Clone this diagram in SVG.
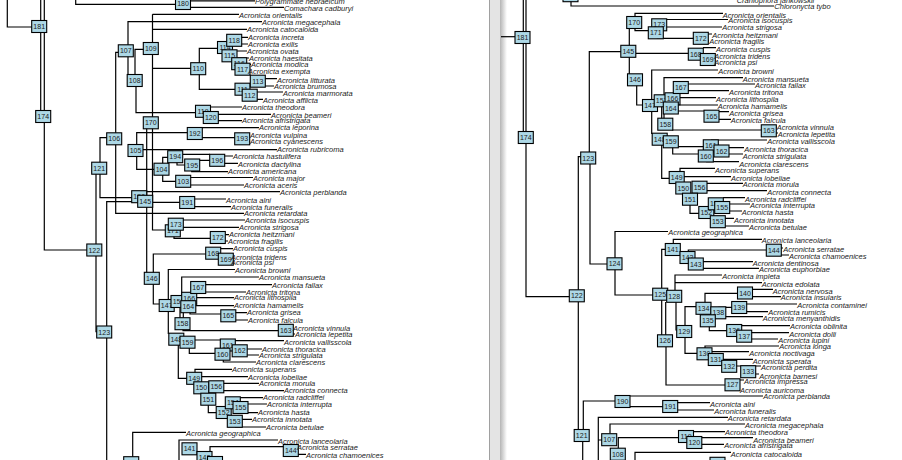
<svg xmlns="http://www.w3.org/2000/svg" width="902" height="460" viewBox="0 0 902 460">
<defs>
<linearGradient id="edge" x1="0" y1="0" x2="1" y2="0"><stop offset="0" stop-color="#b4b4b4"/><stop offset="1" stop-color="#ffffff"/></linearGradient>
<style>
.e{fill:none;stroke:#000;stroke-width:1.2}
.n rect{fill:#add8e6;stroke:#000;stroke-width:1.1}
.n text{font-family:"Liberation Sans",Arial,sans-serif;font-size:7px;text-anchor:middle;fill:#1a1a1a}
.l{font-family:"Liberation Sans",Arial,sans-serif;font-style:italic;font-size:7.5px;fill:#1a1a1a}
</style>
</defs>
<rect width="902" height="460" fill="#fff"/>
<rect x="489" y="0" width="11" height="460" fill="#e4e4e4"/>
<line x1="489.5" y1="0" x2="489.5" y2="460" stroke="#a0a0a0"/>
<rect x="500" y="0" width="7" height="460" fill="url(#edge)"/>

<g id="connectors">
<!-- left panel -->
<path class="e" d="M7.3 0V27H32"/>
<path class="e" d="M40.7 0V111"/>
<path class="e" d="M44.3 0V250H87"/>
<path class="e" d="M75.7 0V4.3H176"/>
<path class="e" d="M183 0.8H255M183 7.3H284"/>
<path class="e" d="M152.5 14.3V230H166M152.5 14.3H239M152.5 29.3H247M152.5 68.3H191"/>
<path class="e" d="M262 21.7H128V75"/>
<path class="e" d="M119 52.3H115.7V213.3H244"/>
<path class="e" d="M135 75V49.3H144"/>
<path class="e" d="M136 86V112.7H196"/>
<path class="e" d="M146.7 128V273"/>
<path class="e" d="M136.7 147V132.7H188"/>
<path class="e" d="M218 48.3H199.3V89.3H235"/>
<path class="e" d="M234 37.3H248M234 44H248M225 51H247M229 58H249M239 64.3H251M243 71.3H248"/>
<path class="e" d="M258 78.7H277M258 86H274M250 92H283M250 99.3H263"/>
<path class="e" d="M203 107H242M211 114.3H271M211 120.7H242"/>
<path class="e" d="M259 127.7H195V137.7H235M242 135H250M242 141.7H250"/>
<path class="e" d="M136 149.7H277"/>
<path class="e" d="M136.7 155V169.3H155"/>
<path class="e" d="M168 157.3H162.7V181.3H176"/>
<path class="e" d="M183 154.3H210M177 161.7V165H185M199 160.3H210M191.7 170V171.7H228"/>
<path class="e" d="M218 156H233M218 163.3H238M183 177.5H253M183 185H244"/>
<path class="e" d="M107 137.7H100V197.7H132"/>
<path class="e" d="M96 174V331.7H97"/>
<path class="e" d="M106.7 460V201.7H138"/>
<path class="e" d="M146.7 191.7H280M152 202.3H180M187 199H226M187 206.7H231"/>
<path class="e" d="M176 220H245M176 227.3H239M174 236V238.3H211M218 234.7H229M218 241H228"/>
<path class="e" d="M206 254H153.3V304H160"/>
<path class="e" d="M213 248.7H233M226 256H231M226 262.7H231"/>
<path class="e" d="M235 269.5H168.3V334"/>
<path class="e" d="M181.7 301V277H259M180 301V318M183.3 301V318"/>
<path class="e" d="M198 284.7H272M198 292H246M189 297.7H234M188 305.7H234M190 307V314H221"/>
<path class="e" d="M228 312.7H247M228 320H248M183 324V330.7H279M286 327H293M286 334H295"/>
<path class="e" d="M178.3 345V378.3H187"/>
<path class="e" d="M195 340H221M189.3 348V353.3H215M228 340.7H284M240 349H262M240 355H259M223.3 360V362H256"/>
<path class="e" d="M195 373V369.3H232M194 376.7H248M216 383.3H259M216 390.7H284"/>
<path class="e" d="M208.3 405V412.7H217M233 397.7H263M240 404H267M240 412.7H258M235 419.3H252M235 427H266"/>
<path class="e" d="M132.7 457V432.3H186"/>
<path class="e" d="M179 460V440H278M210 452V446.7H284M291 447.3H297M291 454.3H306"/>
<!-- right panel -->
<path class="e" d="M501 36.7H515"/>
<path class="e" d="M523.3 0V132"/>
<path class="e" d="M526 0V296.7H570"/>
<path class="e" d="M571 0V6H774"/>
<path class="e" d="M635 22.5V13.3H723M635 28V30.7H649"/>
<path class="e" d="M666 19.5H728M666 27H722M656.7 38.3H694M708 34H712M708 41H709"/>
<path class="e" d="M629.3 46V28M621 51.7H589.3V152M636 53.3H689"/>
<path class="e" d="M703 47.7H716M715 55.5H714M629.3 56V74M636.7 85V105H643"/>
<path class="e" d="M718 70H651.7V134"/>
<path class="e" d="M743 77.7H664V119M661.7 100V119"/>
<path class="e" d="M681 84H755M681 90.7H729M673 97.7H716M671 105H718M678 111H704"/>
<path class="e" d="M712 111.7H729M712 119.3H731M672 130H762M769 127H777M769 133H778"/>
<path class="e" d="M678 146.7H704M711 140H767M722 147.7H744M722 154H743M672.7 147V154H698M706.7 160V161.7H739"/>
<path class="e" d="M661.7 145V178.3H670M680 172V168.3H715M684 176.7H731M706 183.3H743M706 190.7H767"/>
<path class="e" d="M690 205V213.3H700M723 197.7H745M729 204H750M729 211H742M725 218.3H734M725 226H749"/>
<path class="e" d="M578.3 290V156.7H581M590 163V264H608"/>
<path class="e" d="M668 231.5H615V295H653"/>
<path class="e" d="M661.7 288V249.3H666M673.3 244V239.3H762M688.3 253V250H766M774 248H783M781 255H789"/>
<path class="e" d="M703 261.7H753M703 268.3H759"/>
<path class="e" d="M722 275H675V290M675 282.7H762"/>
<path class="e" d="M705 303V293.3H738M752 289.3H773M752 296.7H781"/>
<path class="e" d="M718.3 307.3H732M746 304H797M746 311.7H768M725 316.7H763"/>
<path class="e" d="M709.3 326V330.7H727M741 325.7H790M751 332.7H789M751 339H778"/>
<path class="e" d="M661.7 300V335M665.7 302V335M676 302V330H677"/>
<path class="e" d="M696 306.7H685V353.3H698"/>
<path class="e" d="M705 348.3V346H779M711 351.7H749M723 359.3H753M736 366H761M755 374H759"/>
<path class="e" d="M666 346.7V385H725M740 380H744"/>
<path class="e" d="M578.3 301.7V429M583.3 429V401H615M582.7 441V460"/>
<path class="e" d="M630 396H763M630 406.7H663M677 402.7H710M677 410H714"/>
<path class="e" d="M598.3 460V417.3H728M598.3 440H602M610 433.3V424H745"/>
<path class="e" d="M618.3 448.3V437.7H679M693 431.7H725M701 437.7H753M701 444.3H724"/>
<path class="e" d="M635 460V452.3H731"/>
</g>

<g id="nodes-left">
<g id="L180" class="n" transform="translate(183,3.5)"><rect x="-7.5" y="-6" width="15" height="12"/><text y="2.5">180</text></g>
<g id="L181" class="n" transform="translate(39.2,26.5)"><rect x="-7.5" y="-6" width="15" height="12"/><text y="2.5">181</text></g>
<g id="L174" class="n" transform="translate(43.2,116.5)"><rect x="-7.5" y="-6" width="15" height="12"/><text y="2.5">174</text></g>
<g id="L106" class="n" transform="translate(114.2,138.8)"><rect x="-7.5" y="-6" width="15" height="12"/><text y="2.5">106</text></g>
<g id="L107" class="n" transform="translate(125.8,50.8)"><rect x="-7.5" y="-6" width="15" height="12"/><text y="2.5">107</text></g>
<g id="L108" class="n" transform="translate(134.7,80.5)"><rect x="-7.5" y="-6" width="15" height="12"/><text y="2.5">108</text></g>
<g id="L109" class="n" transform="translate(150.8,48.5)"><rect x="-7.5" y="-6" width="15" height="12"/><text y="2.5">109</text></g>
<g id="L110" class="n" transform="translate(198.2,68.7)"><rect x="-7.5" y="-6" width="15" height="12"/><text y="2.5">110</text></g>
<g id="L114" class="n" transform="translate(225,47.5)"><rect x="-7.5" y="-6" width="15" height="12"/><text y="2.5">114</text></g>
<g id="L118" class="n" transform="translate(234.2,40.3)"><rect x="-7.5" y="-6" width="15" height="12"/><text y="2.5">118</text></g>
<g id="L115" class="n" transform="translate(229.5,55.8)"><rect x="-7.5" y="-6" width="15" height="12"/><text y="2.5">115</text></g>
<g id="L116" class="n" transform="translate(239.2,63.7)"><rect x="-7.5" y="-6" width="15" height="12"/><text y="2.5">116</text></g>
<g id="L117" class="n" transform="translate(242.5,69.2)"><rect x="-7.5" y="-6" width="15" height="12"/><text y="2.5">117</text></g>
<g id="L111" class="n" transform="translate(242.5,89.2)"><rect x="-7.5" y="-6" width="15" height="12"/><text y="2.5">111</text></g>
<g id="L112" class="n" transform="translate(249.7,95.2)"><rect x="-7.5" y="-6" width="15" height="12"/><text y="2.5">112</text></g>
<g id="L113" class="n" transform="translate(257.8,81.2)"><rect x="-7.5" y="-6" width="15" height="12"/><text y="2.5">113</text></g>
<g id="L119" class="n" transform="translate(203,111.3)"><rect x="-7.5" y="-6" width="15" height="12"/><text y="2.5">119</text></g>
<g id="L120" class="n" transform="translate(210.8,117.5)"><rect x="-7.5" y="-6" width="15" height="12"/><text y="2.5">120</text></g>
<g id="L170" class="n" transform="translate(150.8,122.8)"><rect x="-7.5" y="-6" width="15" height="12"/><text y="2.5">170</text></g>
<g id="L192" class="n" transform="translate(194.8,133.5)"><rect x="-7.5" y="-6" width="15" height="12"/><text y="2.5">192</text></g>
<g id="L193" class="n" transform="translate(242.2,138.8)"><rect x="-7.5" y="-6" width="15" height="12"/><text y="2.5">193</text></g>
<g id="L105" class="n" transform="translate(135.5,150.5)"><rect x="-7.5" y="-6" width="15" height="12"/><text y="2.5">105</text></g>
<g id="L104" class="n" transform="translate(161.5,169.2)"><rect x="-7.5" y="-6" width="15" height="12"/><text y="2.5">104</text></g>
<g id="L194" class="n" transform="translate(175.2,156.7)"><rect x="-7.5" y="-6" width="15" height="12"/><text y="2.5">194</text></g>
<g id="L195" class="n" transform="translate(192.2,165)"><rect x="-7.5" y="-6" width="15" height="12"/><text y="2.5">195</text></g>
<g id="L196" class="n" transform="translate(217.2,160.3)"><rect x="-7.5" y="-6" width="15" height="12"/><text y="2.5">196</text></g>
<g id="L103" class="n" transform="translate(183.2,181.3)"><rect x="-7.5" y="-6" width="15" height="12"/><text y="2.5">103</text></g>
<g id="L121" class="n" transform="translate(99.2,168.2)"><rect x="-7.5" y="-6" width="15" height="12"/><text y="2.5">121</text></g>
<g id="L122" class="n" transform="translate(94.3,250)"><rect x="-7.5" y="-6" width="15" height="12"/><text y="2.5">122</text></g>
<g id="L123" class="n" transform="translate(104.2,332)"><rect x="-7.5" y="-6" width="15" height="12"/><text y="2.5">123</text></g>
<g id="L190" class="n" transform="translate(139.2,196.7)"><rect x="-7.5" y="-6" width="15" height="12"/><text y="2.5">190</text></g>
<g id="L145" class="n" transform="translate(145.2,201.3)"><rect x="-7.5" y="-6" width="15" height="12"/><text y="2.5">145</text></g>
<g id="L191" class="n" transform="translate(187.2,202.5)"><rect x="-7.5" y="-6" width="15" height="12"/><text y="2.5">191</text></g>
<g id="L171" class="n" transform="translate(172.8,230.8)"><rect x="-7.5" y="-6" width="15" height="12"/><text y="2.5">171</text></g>
<g id="L173" class="n" transform="translate(175.8,224.2)"><rect x="-7.5" y="-6" width="15" height="12"/><text y="2.5">173</text></g>
<g id="L172" class="n" transform="translate(217.8,237.5)"><rect x="-7.5" y="-6" width="15" height="12"/><text y="2.5">172</text></g>
<g id="L146" class="n" transform="translate(151.8,278.3)"><rect x="-7.5" y="-6" width="15" height="12"/><text y="2.5">146</text></g>
<g id="L168" class="n" transform="translate(213.2,253.2)"><rect x="-7.5" y="-6" width="15" height="12"/><text y="2.5">168</text></g>
<g id="L169" class="n" transform="translate(225.8,259.2)"><rect x="-7.5" y="-6" width="15" height="12"/><text y="2.5">169</text></g>
<g id="L147" class="n" transform="translate(166.7,305.5)"><rect x="-7.5" y="-6" width="15" height="12"/><text y="2.5">147</text></g>
<g id="L157" class="n" transform="translate(178.5,301.5)"><rect x="-7.5" y="-6" width="15" height="12"/><text y="2.5">157</text></g>
<g id="L166" class="n" transform="translate(189.2,298.3)"><rect x="-7.5" y="-6" width="15" height="12"/><text y="2.5">166</text></g>
<g id="L167" class="n" transform="translate(198.2,287.5)"><rect x="-7.5" y="-6" width="15" height="12"/><text y="2.5">167</text></g>
<g id="L164" class="n" transform="translate(188.3,306.7)"><rect x="-7.5" y="-6" width="15" height="12"/><text y="2.5">164</text></g>
<g id="L165" class="n" transform="translate(228.3,315.8)"><rect x="-7.5" y="-6" width="15" height="12"/><text y="2.5">165</text></g>
<g id="L158" class="n" transform="translate(182.5,323.7)"><rect x="-7.5" y="-6" width="15" height="12"/><text y="2.5">158</text></g>
<g id="L163" class="n" transform="translate(285.8,330.3)"><rect x="-7.5" y="-6" width="15" height="12"/><text y="2.5">163</text></g>
<g id="L148" class="n" transform="translate(176.3,339.2)"><rect x="-7.5" y="-6" width="15" height="12"/><text y="2.5">148</text></g>
<g id="L159" class="n" transform="translate(187.5,342.2)"><rect x="-7.5" y="-6" width="15" height="12"/><text y="2.5">159</text></g>
<g id="L161" class="n" transform="translate(227.8,345)"><rect x="-7.5" y="-6" width="15" height="12"/><text y="2.5">161</text></g>
<g id="L162" class="n" transform="translate(239.7,350.8)"><rect x="-7.5" y="-6" width="15" height="12"/><text y="2.5">162</text></g>
<g id="L160" class="n" transform="translate(222.5,354.2)"><rect x="-7.5" y="-6" width="15" height="12"/><text y="2.5">160</text></g>
<g id="L149" class="n" transform="translate(194.2,378.3)"><rect x="-7.5" y="-6" width="15" height="12"/><text y="2.5">149</text></g>
<g id="L150" class="n" transform="translate(201.3,387.8)"><rect x="-7.5" y="-6" width="15" height="12"/><text y="2.5">150</text></g>
<g id="L156" class="n" transform="translate(216.3,386.8)"><rect x="-7.5" y="-6" width="15" height="12"/><text y="2.5">156</text></g>
<g id="L151" class="n" transform="translate(208.3,399.2)"><rect x="-7.5" y="-6" width="15" height="12"/><text y="2.5">151</text></g>
<g id="L152" class="n" transform="translate(223.7,412.5)"><rect x="-7.5" y="-6" width="15" height="12"/><text y="2.5">152</text></g>
<g id="L154" class="n" transform="translate(232.8,402.8)"><rect x="-7.5" y="-6" width="15" height="12"/><text y="2.5">154</text></g>
<g id="L155" class="n" transform="translate(240.5,407.5)"><rect x="-7.5" y="-6" width="15" height="12"/><text y="2.5">155</text></g>
<g id="L153" class="n" transform="translate(234.8,421.3)"><rect x="-7.5" y="-6" width="15" height="12"/><text y="2.5">153</text></g>
<g id="L124" class="n" transform="translate(131.2,462.7)"><rect x="-7.5" y="-6" width="15" height="12"/><text y="2.5">124</text></g>
<g id="L141" class="n" transform="translate(189.5,448.8)"><rect x="-7.5" y="-6" width="15" height="12"/><text y="2.5">141</text></g>
<g id="L142" class="n" transform="translate(204.5,457.5)"><rect x="-7.5" y="-6" width="15" height="12"/><text y="2.5">142</text></g>
<g id="L143" class="n" transform="translate(215,462.5)"><rect x="-7.5" y="-6" width="15" height="12"/><text y="2.5">143</text></g>
<g id="L144" class="n" transform="translate(290.8,450.5)"><rect x="-7.5" y="-6" width="15" height="12"/><text y="2.5">144</text></g>
</g>

<g id="nodes-right">
<g id="R179" class="n" transform="translate(570.5,-4.3)"><rect x="-7.5" y="-6" width="15" height="12"/><text y="2.5">179</text></g>
<g id="R181" class="n" transform="translate(522.5,37.5)"><rect x="-7.5" y="-6" width="15" height="12"/><text y="2.5">181</text></g>
<g id="R174" class="n" transform="translate(525.8,137.5)"><rect x="-7.5" y="-6" width="15" height="12"/><text y="2.5">174</text></g>
<g id="R145" class="n" transform="translate(628.3,51.3)"><rect x="-7.5" y="-6" width="15" height="12"/><text y="2.5">145</text></g>
<g id="R170" class="n" transform="translate(634.2,22.5)"><rect x="-7.5" y="-6" width="15" height="12"/><text y="2.5">170</text></g>
<g id="R173" class="n" transform="translate(659.2,24.8)"><rect x="-7.5" y="-6" width="15" height="12"/><text y="2.5">173</text></g>
<g id="R171" class="n" transform="translate(655.8,32.8)"><rect x="-7.5" y="-6" width="15" height="12"/><text y="2.5">171</text></g>
<g id="R172" class="n" transform="translate(700.8,38.3)"><rect x="-7.5" y="-6" width="15" height="12"/><text y="2.5">172</text></g>
<g id="R168" class="n" transform="translate(695.8,54.2)"><rect x="-7.5" y="-6" width="15" height="12"/><text y="2.5">168</text></g>
<g id="R169" class="n" transform="translate(707.8,59.5)"><rect x="-7.5" y="-6" width="15" height="12"/><text y="2.5">169</text></g>
<g id="R146" class="n" transform="translate(635,79.8)"><rect x="-7.5" y="-6" width="15" height="12"/><text y="2.5">146</text></g>
<g id="R147" class="n" transform="translate(650,105.5)"><rect x="-7.5" y="-6" width="15" height="12"/><text y="2.5">147</text></g>
<g id="R157" class="n" transform="translate(661.7,100.8)"><rect x="-7.5" y="-6" width="15" height="12"/><text y="2.5">157</text></g>
<g id="R166" class="n" transform="translate(672.5,98.8)"><rect x="-7.5" y="-6" width="15" height="12"/><text y="2.5">166</text></g>
<g id="R167" class="n" transform="translate(680.8,87.5)"><rect x="-7.5" y="-6" width="15" height="12"/><text y="2.5">167</text></g>
<g id="R164" class="n" transform="translate(670.8,108)"><rect x="-7.5" y="-6" width="15" height="12"/><text y="2.5">164</text></g>
<g id="R165" class="n" transform="translate(711.5,116.2)"><rect x="-7.5" y="-6" width="15" height="12"/><text y="2.5">165</text></g>
<g id="R158" class="n" transform="translate(665.3,124.2)"><rect x="-7.5" y="-6" width="15" height="12"/><text y="2.5">158</text></g>
<g id="R163" class="n" transform="translate(768.8,130.8)"><rect x="-7.5" y="-6" width="15" height="12"/><text y="2.5">163</text></g>
<g id="R148" class="n" transform="translate(659.7,139.2)"><rect x="-7.5" y="-6" width="15" height="12"/><text y="2.5">148</text></g>
<g id="R159" class="n" transform="translate(670.8,141.8)"><rect x="-7.5" y="-6" width="15" height="12"/><text y="2.5">159</text></g>
<g id="R161" class="n" transform="translate(710.8,145.8)"><rect x="-7.5" y="-6" width="15" height="12"/><text y="2.5">161</text></g>
<g id="R162" class="n" transform="translate(721.5,151)"><rect x="-7.5" y="-6" width="15" height="12"/><text y="2.5">162</text></g>
<g id="R160" class="n" transform="translate(705.8,156)"><rect x="-7.5" y="-6" width="15" height="12"/><text y="2.5">160</text></g>
<g id="R123" class="n" transform="translate(588.2,158)"><rect x="-7.5" y="-6" width="15" height="12"/><text y="2.5">123</text></g>
<g id="R149" class="n" transform="translate(676.7,177.5)"><rect x="-7.5" y="-6" width="15" height="12"/><text y="2.5">149</text></g>
<g id="R150" class="n" transform="translate(683.3,188)"><rect x="-7.5" y="-6" width="15" height="12"/><text y="2.5">150</text></g>
<g id="R156" class="n" transform="translate(699.5,187.2)"><rect x="-7.5" y="-6" width="15" height="12"/><text y="2.5">156</text></g>
<g id="R151" class="n" transform="translate(690,199.2)"><rect x="-7.5" y="-6" width="15" height="12"/><text y="2.5">151</text></g>
<g id="R152" class="n" transform="translate(706.3,212.5)"><rect x="-7.5" y="-6" width="15" height="12"/><text y="2.5">152</text></g>
<g id="R154" class="n" transform="translate(715.8,203.8)"><rect x="-7.5" y="-6" width="15" height="12"/><text y="2.5">154</text></g>
<g id="R155" class="n" transform="translate(722.2,207.5)"><rect x="-7.5" y="-6" width="15" height="12"/><text y="2.5">155</text></g>
<g id="R153" class="n" transform="translate(717.8,221.7)"><rect x="-7.5" y="-6" width="15" height="12"/><text y="2.5">153</text></g>
<g id="R122" class="n" transform="translate(576.8,295.8)"><rect x="-7.5" y="-6" width="15" height="12"/><text y="2.5">122</text></g>
<g id="R124" class="n" transform="translate(614.5,263.8)"><rect x="-7.5" y="-6" width="15" height="12"/><text y="2.5">124</text></g>
<g id="R125" class="n" transform="translate(660.2,294.2)"><rect x="-7.5" y="-6" width="15" height="12"/><text y="2.5">125</text></g>
<g id="R141" class="n" transform="translate(672.8,249.5)"><rect x="-7.5" y="-6" width="15" height="12"/><text y="2.5">141</text></g>
<g id="R142" class="n" transform="translate(687.5,257.5)"><rect x="-7.5" y="-6" width="15" height="12"/><text y="2.5">142</text></g>
<g id="R143" class="n" transform="translate(695.8,264)"><rect x="-7.5" y="-6" width="15" height="12"/><text y="2.5">143</text></g>
<g id="R144" class="n" transform="translate(773.8,250.2)"><rect x="-7.5" y="-6" width="15" height="12"/><text y="2.5">144</text></g>
<g id="R128" class="n" transform="translate(674.2,296.3)"><rect x="-7.5" y="-6" width="15" height="12"/><text y="2.5">128</text></g>
<g id="R126" class="n" transform="translate(665,340.8)"><rect x="-7.5" y="-6" width="15" height="12"/><text y="2.5">126</text></g>
<g id="R129" class="n" transform="translate(684.2,331.5)"><rect x="-7.5" y="-6" width="15" height="12"/><text y="2.5">129</text></g>
<g id="R134" class="n" transform="translate(703.5,308.3)"><rect x="-7.5" y="-6" width="15" height="12"/><text y="2.5">134</text></g>
<g id="R140" class="n" transform="translate(745,293)"><rect x="-7.5" y="-6" width="15" height="12"/><text y="2.5">140</text></g>
<g id="R138" class="n" transform="translate(718.3,312.8)"><rect x="-7.5" y="-6" width="15" height="12"/><text y="2.5">138</text></g>
<g id="R139" class="n" transform="translate(739.2,307.5)"><rect x="-7.5" y="-6" width="15" height="12"/><text y="2.5">139</text></g>
<g id="R135" class="n" transform="translate(707.8,320.8)"><rect x="-7.5" y="-6" width="15" height="12"/><text y="2.5">135</text></g>
<g id="R136" class="n" transform="translate(734.2,330.5)"><rect x="-7.5" y="-6" width="15" height="12"/><text y="2.5">136</text></g>
<g id="R137" class="n" transform="translate(744.2,336.2)"><rect x="-7.5" y="-6" width="15" height="12"/><text y="2.5">137</text></g>
<g id="R130" class="n" transform="translate(704.5,353.8)"><rect x="-7.5" y="-6" width="15" height="12"/><text y="2.5">130</text></g>
<g id="R131" class="n" transform="translate(715.8,359.5)"><rect x="-7.5" y="-6" width="15" height="12"/><text y="2.5">131</text></g>
<g id="R132" class="n" transform="translate(729.2,366.3)"><rect x="-7.5" y="-6" width="15" height="12"/><text y="2.5">132</text></g>
<g id="R133" class="n" transform="translate(748.2,371.7)"><rect x="-7.5" y="-6" width="15" height="12"/><text y="2.5">133</text></g>
<g id="R127" class="n" transform="translate(732.5,384.8)"><rect x="-7.5" y="-6" width="15" height="12"/><text y="2.5">127</text></g>
<g id="R121" class="n" transform="translate(581.7,435.5)"><rect x="-7.5" y="-6" width="15" height="12"/><text y="2.5">121</text></g>
<g id="R190" class="n" transform="translate(622.5,401.5)"><rect x="-7.5" y="-6" width="15" height="12"/><text y="2.5">190</text></g>
<g id="R191" class="n" transform="translate(670.2,406.5)"><rect x="-7.5" y="-6" width="15" height="12"/><text y="2.5">191</text></g>
<g id="R107" class="n" transform="translate(609.2,439.7)"><rect x="-7.5" y="-6" width="15" height="12"/><text y="2.5">107</text></g>
<g id="R108" class="n" transform="translate(617.8,454.2)"><rect x="-7.5" y="-6" width="15" height="12"/><text y="2.5">108</text></g>
<g id="R119" class="n" transform="translate(686,436.5)"><rect x="-7.5" y="-6" width="15" height="12"/><text y="2.5">119</text></g>
<g id="R120" class="n" transform="translate(694.3,442.5)"><rect x="-7.5" y="-6" width="15" height="12"/><text y="2.5">120</text></g>
<g id="R118" class="n" transform="translate(717.5,463.3)"><rect x="-7.5" y="-6" width="15" height="12"/><text y="2.5">118</text></g>
</g>

<g id="leaves-left">
<text id="l-hebraeicum" class="l" x="255" y="3.7">Polygrammate hebraeicum</text>
<text id="l-cadburyi" class="l" x="284" y="10.7">Comachara cadburyi</text>
<text id="l-orientalis" class="l" x="239" y="18.4">Acronicta orientalis</text>
<text id="l-megacephala" class="l" x="262" y="25">Acronicta megacephala</text>
<text id="l-catocaloida" class="l" x="247" y="32.4">Acronicta catocaloida</text>
<text id="l-increta" class="l" x="248" y="39.7">Acronicta increta</text>
<text id="l-exilis" class="l" x="248" y="46.7">Acronicta exilis</text>
<text id="l-ovata" class="l" x="247" y="53.7">Acronicta ovata</text>
<text id="l-haesitata" class="l" x="249" y="60.7">Acronicta haesitata</text>
<text id="l-modica" class="l" x="251" y="67">Acronicta modica</text>
<text id="l-exempta" class="l" x="248" y="74">Acronicta exempta</text>
<text id="l-litturata" class="l" x="277" y="82.7">Acronicta litturata</text>
<text id="l-brumosa" class="l" x="274" y="89.4">Acronicta brumosa</text>
<text id="l-marmorata" class="l" x="283" y="96.4">Acronicta marmorata</text>
<text id="l-afflicta" class="l" x="263" y="103">Acronicta afflicta</text>
<text id="l-theodora" class="l" x="242" y="110.4">Acronicta theodora</text>
<text id="l-beameri" class="l" x="271" y="117.7">Acronicta beameri</text>
<text id="l-afristrigata" class="l" x="242" y="123.4">Acronicta afristrigata</text>
<text id="l-leporina" class="l" x="259" y="130.4">Acronicta leporina</text>
<text id="l-vulpina" class="l" x="250" y="137.7">Acronicta vulpina</text>
<text id="l-cyanescens" class="l" x="250" y="144.4">Acronicta cyanescens</text>
<text id="l-rubricoma" class="l" x="277" y="152.4">Acronicta rubricoma</text>
<text id="l-hastulifera" class="l" x="233" y="159.4">Acronicta hastulifera</text>
<text id="l-dactylina" class="l" x="238" y="166.7">Acronicta dactylina</text>
<text id="l-americana" class="l" x="228" y="174.4">Acronicta americana</text>
<text id="l-major" class="l" x="253" y="180.7">Acronicta major</text>
<text id="l-aceris" class="l" x="244" y="188">Acronicta aceris</text>
<text id="l-perblanda" class="l" x="280" y="194.7">Acronicta perblanda</text>
<text id="l-alni" class="l" x="226" y="202.7">Acronicta alni</text>
<text id="l-funeralis" class="l" x="231" y="209.7">Acronicta funeralis</text>
<text id="l-retardata" class="l" x="244" y="216">Acronicta retardata</text>
<text id="l-isocuspis" class="l" x="245" y="223">Acronicta isocuspis</text>
<text id="l-strigosa" class="l" x="239" y="230">Acronicta strigosa</text>
<text id="l-heitzmani" class="l" x="229" y="237.4">Acronicta heitzmani</text>
<text id="l-fragilis" class="l" x="228" y="243.7">Acronicta fragilis</text>
<text id="l-cuspis" class="l" x="233" y="251.4">Acronicta cuspis</text>
<text id="l-tridens" class="l" x="231" y="259.7">Acronicta tridens</text>
<text id="l-psi" class="l" x="231" y="265.4">Acronicta psi</text>
<text id="l-browni" class="l" x="235" y="273.4">Acronicta browni</text>
<text id="l-mansueta" class="l" x="259" y="280.4">Acronicta mansueta</text>
<text id="l-fallax" class="l" x="272" y="287.7">Acronicta fallax</text>
<text id="l-tritona" class="l" x="246" y="294.7">Acronicta tritona</text>
<text id="l-lithospila" class="l" x="234" y="300.4">Acronicta lithospila</text>
<text id="l-hamamelis" class="l" x="234" y="308.4">Acronicta hamamelis</text>
<text id="l-grisea" class="l" x="247" y="315.4">Acronicta grisea</text>
<text id="l-falcula" class="l" x="248" y="322.7">Acronicta falcula</text>
<text id="l-vinnula" class="l" x="293" y="330.7">Acronicta vinnula</text>
<text id="l-lepetita" class="l" x="295" y="336.7">Acronicta lepetita</text>
<text id="l-vallisscola" class="l" x="284" y="344.7">Acronicta vallisscola</text>
<text id="l-thoracica" class="l" x="262" y="351.7">Acronicta thoracica</text>
<text id="l-strigulata" class="l" x="259" y="358">Acronicta strigulata</text>
<text id="l-clarescens" class="l" x="256" y="365.4">Acronicta clarescens</text>
<text id="l-superans" class="l" x="232" y="371.7">Acronicta superans</text>
<text id="l-lobeliae" class="l" x="248" y="379.7">Acronicta lobeliae</text>
<text id="l-morula" class="l" x="259" y="386.4">Acronicta morula</text>
<text id="l-connecta" class="l" x="284" y="393.4">Acronicta connecta</text>
<text id="l-radcliffei" class="l" x="263" y="400.4">Acronicta radcliffei</text>
<text id="l-interrupta" class="l" x="267" y="406.7">Acronicta interrupta</text>
<text id="l-hasta" class="l" x="258" y="415.4">Acronicta hasta</text>
<text id="l-innotata" class="l" x="252" y="422">Acronicta innotata</text>
<text id="l-betulae" class="l" x="266" y="429.7">Acronicta betulae</text>
<text id="l-geographica" class="l" x="186" y="436">Acronicta geographica</text>
<text id="l-lanceolaria" class="l" x="278" y="443.7">Acronicta lanceolaria</text>
<text id="l-serratae" class="l" x="297" y="450.4">Acronicta serratae</text>
<text id="l-chamoenices" class="l" x="306" y="457.7">Acronicta chamoenices</text>
</g>

<g id="leaves-right">
<text id="r-jankowskii" class="l" x="736.7" y="2.5">Craniophora jankowskii</text>
<text id="r-tybo" class="l" x="774.3" y="9.4">Chloronycta tybo</text>
<text id="r-orientalis" class="l" x="722.7" y="17.7">Acronicta orientalis</text>
<text id="r-isocuspis" class="l" x="728.3" y="23.4">Acronicta isocuspis</text>
<text id="r-strigosa" class="l" x="722.3" y="30.4">Acronicta strigosa</text>
<text id="r-heitzmani" class="l" x="712.3" y="37.7">Acronicta heitzmani</text>
<text id="r-fragilis" class="l" x="709.3" y="44.4">Acronicta fragilis</text>
<text id="r-cuspis" class="l" x="716" y="51.7">Acronicta cuspis</text>
<text id="r-tridens" class="l" x="714.3" y="59.4">Acronicta tridens</text>
<text id="r-psi" class="l" x="714.3" y="65">Acronicta psi</text>
<text id="r-browni" class="l" x="718.3" y="73.7">Acronicta browni</text>
<text id="r-mansueta" class="l" x="742.7" y="81.7">Acronicta mansueta</text>
<text id="r-fallax" class="l" x="755" y="88.4">Acronicta fallax</text>
<text id="r-tritona" class="l" x="729" y="95.4">Acronicta tritona</text>
<text id="r-lithospila" class="l" x="716" y="101.7">Acronicta lithospila</text>
<text id="r-hamamelis" class="l" x="717.7" y="109.4">Acronicta hamamelis</text>
<text id="r-grisea" class="l" x="729.3" y="116">Acronicta grisea</text>
<text id="r-falcula" class="l" x="730.7" y="123.4">Acronicta falcula</text>
<text id="r-vinnula" class="l" x="776.7" y="130.4">Acronicta vinnula</text>
<text id="r-lepetita" class="l" x="777.7" y="136.7">Acronicta lepetita</text>
<text id="r-vallisscola" class="l" x="767.3" y="144.4">Acronicta vallisscola</text>
<text id="r-thoracica" class="l" x="744.3" y="151.7">Acronicta thoracica</text>
<text id="r-strigulata" class="l" x="742.7" y="158.7">Acronicta strigulata</text>
<text id="r-clarescens" class="l" x="739.3" y="166.7">Acronicta clarescens</text>
<text id="r-superans" class="l" x="715" y="172.7">Acronicta superans</text>
<text id="r-lobeliae" class="l" x="731" y="180.7">Acronicta lobeliae</text>
<text id="r-morula" class="l" x="742.7" y="187.4">Acronicta morula</text>
<text id="r-connecta" class="l" x="767.3" y="195">Acronicta connecta</text>
<text id="r-radcliffei" class="l" x="745" y="202">Acronicta radcliffei</text>
<text id="r-interrupta" class="l" x="750" y="207.7">Acronicta interrupta</text>
<text id="r-hasta" class="l" x="741.7" y="215.4">Acronicta hasta</text>
<text id="r-innotata" class="l" x="734" y="222.7">Acronicta innotata</text>
<text id="r-betulae" class="l" x="749" y="230">Acronicta betulae</text>
<text id="r-geographica" class="l" x="668.3" y="235">Acronicta geographica</text>
<text id="r-lanceolaria" class="l" x="761.7" y="243.4">Acronicta lanceolaria</text>
<text id="r-serratae" class="l" x="783.3" y="251.7">Acronicta serratae</text>
<text id="r-chamoenices" class="l" x="789" y="258.7">Acronicta chamoenices</text>
<text id="r-dentinosa" class="l" x="752.7" y="266">Acronicta dentinosa</text>
<text id="r-euphorbiae" class="l" x="759" y="271.7">Acronicta euphorbiae</text>
<text id="r-impleta" class="l" x="722.3" y="278.7">Acronicta impleta</text>
<text id="r-edolata" class="l" x="761.7" y="286.7">Acronicta edolata</text>
<text id="r-nervosa" class="l" x="772.7" y="293.7">Acronicta nervosa</text>
<text id="r-insularis" class="l" x="780.7" y="300.4">Acronicta insularis</text>
<text id="r-contaminei" class="l" x="797.3" y="307.7">Acronicta contaminei</text>
<text id="r-rumicis" class="l" x="768.3" y="315.4">Acronicta rumicis</text>
<text id="r-menyanthidis" class="l" x="762.7" y="321">Acronicta menyanthidis</text>
<text id="r-oblinita" class="l" x="790" y="329.4">Acronicta oblinita</text>
<text id="r-dolli" class="l" x="789.3" y="336.7">Acronicta dolli</text>
<text id="r-lupini" class="l" x="778.3" y="342.7">Acronicta lupini</text>
<text id="r-longa" class="l" x="779.3" y="349.4">Acronicta longa</text>
<text id="r-noctivaga" class="l" x="749.3" y="356">Acronicta noctivaga</text>
<text id="r-sperata" class="l" x="752.7" y="363.7">Acronicta sperata</text>
<text id="r-perdita" class="l" x="761" y="370.4">Acronicta perdita</text>
<text id="r-barnesi" class="l" x="759.3" y="378.7">Acronicta barnesi</text>
<text id="r-impressa" class="l" x="744" y="384.4">Acronicta impressa</text>
<text id="r-auricoma" class="l" x="740" y="392.7">Acronicta auricoma</text>
<text id="r-perblanda" class="l" x="763.3" y="399.4">Acronicta perblanda</text>
<text id="r-alni" class="l" x="710" y="406.7">Acronicta alni</text>
<text id="r-funeralis" class="l" x="714.3" y="414.4">Acronicta funeralis</text>
<text id="r-retardata" class="l" x="727.7" y="421">Acronicta retardata</text>
<text id="r-megacephala" class="l" x="745" y="428.4">Acronicta megacephala</text>
<text id="r-theodora" class="l" x="725" y="435.4">Acronicta theodora</text>
<text id="r-beameri" class="l" x="753.3" y="442.7">Acronicta beameri</text>
<text id="r-afristrigata" class="l" x="724.3" y="448.4">Acronicta afristrigata</text>
<text id="r-catocaloida" class="l" x="730.7" y="456.7">Acronicta catocaloida</text>
<text id="r-increta" class="l" x="730" y="465">Acronicta increta</text>
</g>
</svg>
